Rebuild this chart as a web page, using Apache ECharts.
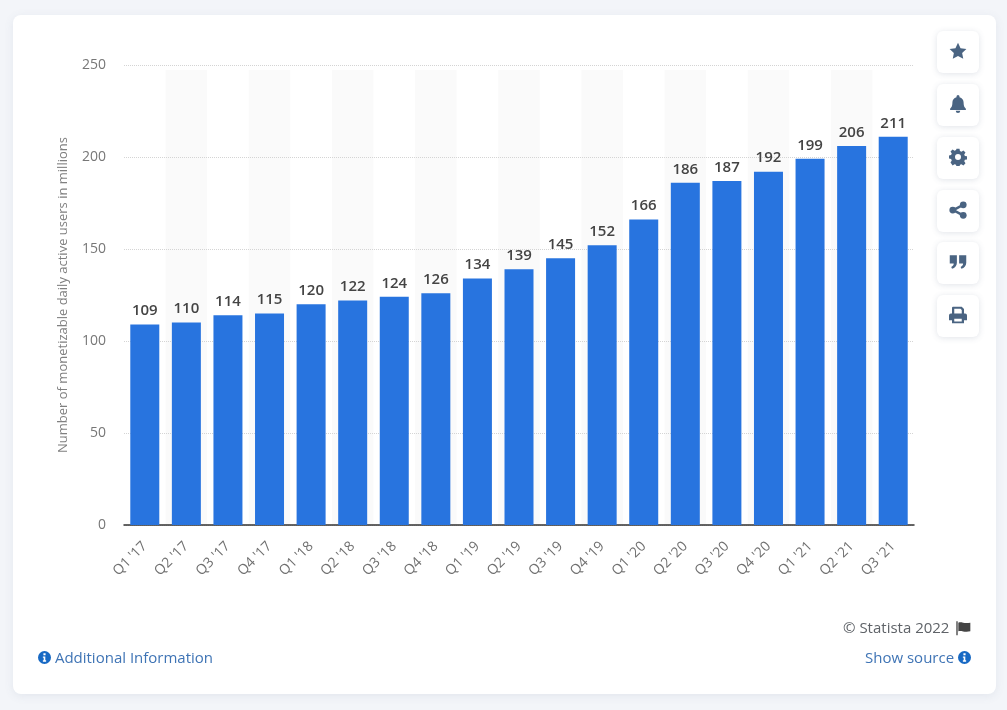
<!DOCTYPE html>
<html>
<head>
<meta charset="utf-8">
<title>Monetizable daily active users</title>
<script src="https://cdn.jsdelivr.net/npm/echarts@6/dist/echarts.min.js"></script>
<style>
html, body { margin: 0; padding: 0; width: 1007px; height: 710px; overflow: hidden; background: #f3f5f9; font-family: "Open Sans", sans-serif; }
#card { position: absolute; left: 13px; top: 15px; width: 983px; height: 679px; background: #fff; border-radius: 8px; box-shadow: 0 2px 10px rgba(90,110,140,.1); }
#chart { position: absolute; left: 0; top: 0; width: 1007px; height: 710px; }
.btn { position: absolute; left: 937px; width: 42px; height: 42px; background: #fff; border-radius: 6px; box-shadow: 0 1px 6px rgba(70,90,120,.16); }
.btn svg { position: absolute; left: 12px; top: 11px; width: 18px; height: 18px; fill: #4a6482; }
.foot { position: absolute; font-size: 15px; line-height: 20px; white-space: nowrap; }
.link { color: #3f74b5; }
.foot svg { width: 13px; height: 13px; vertical-align: -1px; }
</style>
</head>
<body>
<div id="card"></div>
<div id="chart"></div>
<div class="btn" style="top:31px"><svg viewBox="0 0 24 24"><path d="M12 1l3.4 7.2 7.8 1-5.7 5.4 1.5 7.8L12 18.6l-7 3.8 1.5-7.8L.8 9.2l7.8-1z"/></svg></div>
<div class="btn" style="top:84px"><svg viewBox="0 0 24 24"><path d="M12 0a2 2 0 0 1 2 2v1c3.500.8 5.500 3.700 5.500 7.200 0 5 1.500 6.300 3 8V20H1.500v-1.800c1.500-1.700 3-3 3-8C4.500 6.700 6.500 3.800 10 3V2a2 2 0 0 1 2-2zM9 21h6a3 3 0 0 1-6 0z"/></svg></div>
<div class="btn" style="top:137px"><svg viewBox="0 0 24 24"><path fill-rule="evenodd" d="M10 1h4l.6 3 2 .9 2.600-1.700 2.800 2.800-1.700 2.600.9 2 3 .6v4l-3 .6-.9 2 1.700 2.600-2.800 2.800-2.600-1.700-2 .9-.6 3h-4l-.6-3-2-.9-2.600 1.700L2 19.200l1.700-2.600-.9-2-3-.6v-4l3-.6.9-2L2 4.800 4.800 2l2.600 1.700 2-.9zM12 8a4 4 0 1 0 0 8 4 4 0 0 0 0-8z"/></svg></div>
<div class="btn" style="top:190px"><svg viewBox="0 0 24 24"><circle cx="19" cy="5" r="4.500"/><circle cx="19" cy="19" r="4.500"/><circle cx="5" cy="12" r="4.500"/><path d="M5 10.500L18 3.500l1.500 3L6.500 13.500zM6.500 10.500l13 7-1.500 3-13-7z"/></svg></div>
<div class="btn" style="top:242px"><svg viewBox="0 0 24 24"><path d="M1 3h9.500v10c0 4-2.500 7-6.500 8l-1-2.500c2-.8 3.300-2.200 3.300-4.500H1zM13.500 3H23v10c0 4-2.500 7-6.500 8l-1-2.500c2-.8 3.300-2.200 3.300-4.500h-5.300z"/></svg></div>
<div class="btn" style="top:295px"><svg viewBox="0 0 24 24"><path fill-rule="evenodd" d="M5 1h12l3 3v6h1.500A2.500 2.500 0 0 1 24 12.500V19h-4v4H4v-4H0v-6.500A2.500 2.500 0 0 1 2.500 10H4V2zM7 3.500V10h10V5.200L15.300 3.500zM7 17v3.500h10V17z"/></svg></div>
<div class="foot" style="left:843px;top:617px;color:#5f6368">© Statista 2022 <svg viewBox="0 0 24 24" style="width:16px;height:16px;vertical-align:-3px;margin-left:2px;fill:#444"><path d="M2 2h2v21H2zM5 4c5-2 8 2 18 0v13c-10 2-13-2-18 0z"/></svg></div>
<div class="foot link" style="left:38px;top:647px"><svg viewBox="0 0 24 24"><path fill="#1769c4" fill-rule="evenodd" d="M12 0a12 12 0 1 1 0 24 12 12 0 0 1 0-24zM10 4v4h4V4zM9 10v2.500h1.500V17H9v3h6v-3h-1.500v-7z"/></svg> Additional Information</div>
<div class="foot link" style="left:865px;top:647px">Show source <svg viewBox="0 0 24 24"><path fill="#1769c4" fill-rule="evenodd" d="M12 0a12 12 0 1 1 0 24 12 12 0 0 1 0-24zM10 4v4h4V4zM9 10v2.500h1.500V17H9v3h6v-3h-1.500v-7z"/></svg></div>
<script>
var quarters = ["Q1 '17", "Q2 '17", "Q3 '17", "Q4 '17", "Q1 '18", "Q2 '18", "Q3 '18", "Q4 '18", "Q1 '19", "Q2 '19", "Q3 '19", "Q4 '19", "Q1 '20", "Q2 '20", "Q3 '20", "Q4 '20", "Q1 '21", "Q2 '21", "Q3 '21"];
var users = [109, 110, 114, 115, 120, 122, 124, 126, 134, 139, 145, 152, 166, 186, 187, 192, 199, 206, 211];
var yTitle = 'Number of monetizable daily active users in millions';

var chart = echarts.init(document.getElementById('chart'));
chart.setOption({
    animation: false,
    // second grid only carries the striped background, it starts a bit below the 250 line
    grid: [
        { left: 124, top: 65, width: 790, height: 460 },
        { left: 124, top: 70, width: 790, height: 455 }
    ],
    xAxis: [
        {
            type: 'category',
            data: quarters,
            axisLine: { lineStyle: { color: '#333', width: 1.5 } },
            axisTick: { show: false },
            axisLabel: { rotate: 45, color: '#707070', fontFamily: 'Open Sans', fontSize: 14, margin: 19, interval: 0 }
        },
        {
            type: 'category',
            gridIndex: 1,
            z: -1,
            data: quarters,
            axisLine: { show: false },
            axisTick: { show: false },
            axisLabel: { show: false },
            splitArea: { show: true, interval: 0, areaStyle: { color: ['rgba(255,255,255,0)', '#fafafa'] } }
        }
    ],
    yAxis: [
        {
            type: 'value',
            min: 0,
            max: 250,
            interval: 50,
            name: yTitle,
            nameLocation: 'middle',
            nameGap: 54,
            nameTextStyle: { color: '#808080', fontFamily: 'Open Sans', fontSize: 13 },
            axisLine: { show: false },
            axisTick: { show: false },
            axisLabel: { color: '#777', fontFamily: 'Open Sans', fontSize: 14, margin: 18 },
            splitLine: { lineStyle: { color: '#d4d4d4', type: 'dotted', width: 1 } }
        },
        { type: 'value', gridIndex: 1, show: false, min: 0, max: 250 }
    ],
    series: [{
        type: 'bar',
        data: users,
        barWidth: 29,
        itemStyle: { color: '#2874df' },
        label: {
            show: true,
            position: 'top',
            distance: 6,
            color: '#444',
            fontFamily: 'Open Sans',
            fontSize: 15,
            fontWeight: 600
        }
    }]
});
</script>
</body>
</html>
